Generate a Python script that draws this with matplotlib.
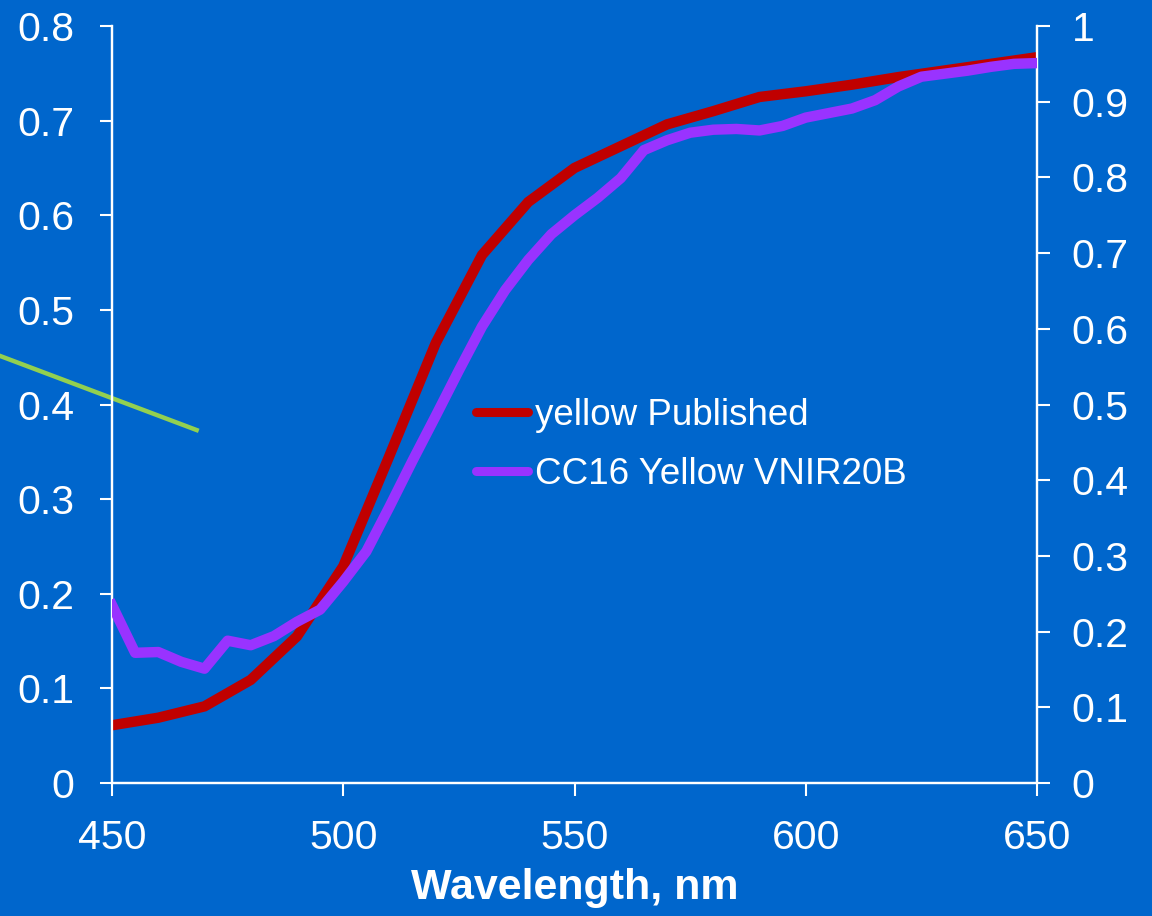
import matplotlib
matplotlib.use("Agg")
import matplotlib.pyplot as plt
from matplotlib.ticker import FuncFormatter

plt.rcParams['font.family'] = ['Liberation Sans', 'DejaVu Sans']

# ---- data ----
wl_pub = [450, 460, 470, 480, 490, 500, 510, 520, 530, 540, 550,
          560, 570, 580, 590, 600, 610, 620, 630, 640, 650]
yellow_published = [0.061, 0.069, 0.081, 0.109, 0.155, 0.229, 0.346, 0.465, 0.558,
                    0.614, 0.650, 0.673, 0.696, 0.710, 0.725, 0.731, 0.738, 0.746,
                    0.753, 0.760, 0.767]

wl_cc16 = [450, 455, 460, 465, 470, 475, 480, 485, 490, 495, 500, 505, 510, 515,
           520, 525, 530, 535, 540, 545, 550, 555, 560, 565, 570, 575, 580, 585,
           590, 595, 600, 605, 610, 615, 620, 625, 630, 635, 640, 645, 650]
cc16_yellow = [0.235, 0.172, 0.173, 0.160, 0.151, 0.188, 0.182, 0.194, 0.213, 0.229,
               0.266, 0.306, 0.365, 0.426, 0.485, 0.545, 0.603, 0.651, 0.691, 0.725,
               0.750, 0.773, 0.799, 0.836, 0.849, 0.859, 0.863, 0.864, 0.862, 0.868,
               0.879, 0.885, 0.891, 0.902, 0.920, 0.933, 0.937, 0.941, 0.946, 0.950,
               0.951]

green_x = [420, 468.3]
green_y = [0.462, 0.373]

x_ticks = [450, 500, 550, 600, 650]
left_ticks = [0, 0.1, 0.2, 0.3, 0.4, 0.5, 0.6, 0.7, 0.8]
right_ticks = [0, 0.1, 0.2, 0.3, 0.4, 0.5, 0.6, 0.7, 0.8, 0.9, 1.0]

BG = '#0066CC'
RED = '#C00000'
PURPLE = '#9933FF'
GREEN = '#92D050'

fig = plt.figure(figsize=(11.52, 9.16), dpi=100, facecolor=BG)
ax = fig.add_axes([112/1152, 1 - 783/916, (1037-112)/1152, (783-26)/916])
ax.set_facecolor('none')
ax2 = ax.twinx()
ax2.set_facecolor('none')

l1, = ax.plot(wl_pub, yellow_published, color=RED, lw=7.5, solid_joinstyle='miter',
              label='yellow Published', zorder=3)
ax.plot(green_x, green_y, color=GREEN, lw=3.2, clip_on=False, zorder=2)
l2, = ax2.plot(wl_cc16, cc16_yellow, color=PURPLE, lw=7.5, label='CC16 Yellow VNIR20B',
               zorder=3)

ax.set_xlim(450, 650)
ax.set_ylim(0, 0.8)
ax2.set_ylim(0, 1.0)
ax.set_xticks(x_ticks)
ax.set_yticks(left_ticks)
ax2.set_yticks(right_ticks)
fmt = FuncFormatter(lambda v, p: f"{v:g}")
ax.yaxis.set_major_formatter(fmt)
ax2.yaxis.set_major_formatter(fmt)

for a in (ax, ax2):
    for s in a.spines.values():
        s.set_color('white')
        s.set_linewidth(1.6)
    a.spines['top'].set_visible(False)
    a.tick_params(colors='white', labelsize=29.5, width=1.5, length=9, direction='out')

ax.tick_params(axis='y', pad=18)
ax2.tick_params(axis='y', pad=16)
ax.tick_params(axis='x', pad=17)

ax.set_xlabel('Wavelength, nm', color='white', fontsize=31, fontweight='bold', labelpad=8)

leg = ax2.legend(handles=[l1, l2], loc='upper left',
                 bbox_to_anchor=(476/1152, 1 - 398/916), bbox_transform=fig.transFigure,
                 frameon=False, fontsize=26.5, handlelength=1.4, handletextpad=0.2,
                 labelspacing=0.64, borderpad=0, borderaxespad=0)
for t in leg.get_texts():
    t.set_color('white')
for h in leg.get_lines():
    h.set_solid_capstyle('round')
    h.set_linewidth(6.5)

fig.savefig('out.png', dpi=100, facecolor=BG)
